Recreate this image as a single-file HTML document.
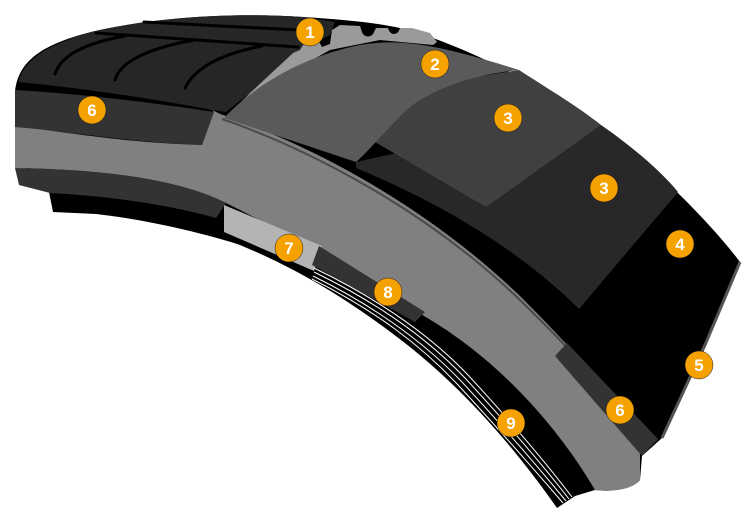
<!DOCTYPE html>
<html><head><style>
html,body{margin:0;padding:0;background:#fff;width:748px;height:519px;overflow:hidden}
svg{display:block}
text{font-family:"Liberation Sans",sans-serif;font-weight:bold;font-size:17px;fill:#fff;text-anchor:middle}
</style></head><body>
<svg width="748" height="519" viewBox="0 0 748 519">
<!-- black base silhouette -->
<path d="M15,127 L15,92 C18,62 40,45 91,32 C150,18 230,12 303,17 C350,20 400,24 433,38 C520,70 600,120 680,195 C705,220 725,242 740,262 L705,345 L662,438 L642,456 L640,480 C632,490 610,492 595,490 L575,496 L557,508 C520,455 470,395 410,347 C350,300 300,270 240,245 C210,235 150,220 96,214 L53,212 L48,187 L19,163 Z" fill="#000"/>
<!-- tread top -->
<path d="M19,80 C25,60 45,46 91,32 C150,18 230,12 303,17 L335,22 L330,35 L308,47 L293,53 L250,93 L226,112 L212,110 C150,98 80,88 19,82 Z" fill="#262626"/>
<g stroke="#000" stroke-width="3" fill="none" stroke-linecap="round">
<path d="M55,74 C60,58 80,44 125,36"/>
<path d="M115,80 C120,62 148,48 195,40"/>
<path d="M185,88 C195,68 220,54 262,46"/>
<path d="M96,33 L298,47"/>
<path d="M144,22 L300,30"/>
</g>
<!-- 6 strip left -->
<path d="M15,90 C80,94 150,102 214,112 L202,145 C140,143 70,132 15,127 Z" fill="#333"/>
<!-- light gray tread cut -->
<path d="M212,110 L226,117 L250,93 L293,53 L300,50 L305,42 L318,40 L322,47 L330,44 L332,30 L340,25 L360,26 L362,32 C364,38 372,38 374,32 L376,28 L388,28 C390,36 398,36 400,28 L412,28 L430,33 L437,42 L433,45 L380,40 L330,50 L280,78 L240,110 L226,124 Z" fill="#9a9a9a"/>
<!-- 3b -->
<path d="M356,162 C450,140 540,130 601,125 C630,145 660,170 678,192 L579,309 C540,270 470,215 356,168 Z" fill="#282828"/>
<!-- gray band -->
<path d="M15,127 C60,130 110,142 202,145 L214,112 C300,140 420,200 520,296 C580,356 620,404 640,432 L640,480 C632,490 610,492 595,490 C560,430 500,360 424,316 C380,285 320,250 226,203 C190,185 130,170 15,168 Z" fill="#808080"/>
<!-- thin dark line on top of gray -->
<path d="M222,119 C300,146 420,204 520,300 C580,358 620,406 642,436" stroke="#4a4a4a" stroke-width="2" fill="none"/>
<!-- dark strip below gray left -->
<path d="M15,168 C130,170 190,185 226,203 L216,218 C170,205 110,196 50,193 L19,185 Z" fill="#333"/>
<!-- 7 light -->
<path d="M224,205 L322,246 L314,271 L224,232 Z" fill="#b4b4b4"/>
<!-- 8 strip -->
<path d="M319,246 L425,312 L415,322 L312,265 Z" fill="#333"/>
<!-- stripes 9 -->
<g stroke="#fff" stroke-width="1" fill="none">
<path d="M314,268 C380,300 430,335 468,375 C505,415 540,455 572,497"/>
<path d="M314,272 C380,304 428,339 465,378 C502,418 537,458 569,499"/>
<path d="M313,276 C378,308 425,343 462,382 C499,422 534,462 566,501"/>
<path d="M312,279 C376,311 422,346 459,386 C496,426 531,466 563,503"/>
</g>
<!-- 6 strip right -->
<path d="M555,356 L567,343 L658,439 L642,456 Z" fill="#333"/>
<!-- layer 3a -->
<path d="M519,70 C550,90 580,108 601,125 L486,207 L375,142 C390,110 420,85 457,80 Z" fill="#404040"/>
<!-- layer 2 -->
<path d="M224,118 C260,80 310,55 360,45 C400,38 440,45 519,70 C480,74 440,85 410,107 C390,125 370,150 356,162 Z" fill="#5a5a5a"/>
<!-- right edge 5 -->
<path d="M740,262 L705,345 L662,438" stroke="#555" stroke-width="3" fill="none"/>
<!-- badges -->
<g fill="#f5a100" stroke="#1a1a1a" stroke-width="0.5">
<circle cx="310" cy="32" r="14"/><circle cx="435" cy="64" r="14"/>
<circle cx="508" cy="118" r="14"/><circle cx="604" cy="188" r="14"/>
<circle cx="680" cy="244" r="14"/><circle cx="699" cy="365" r="14"/>
<circle cx="92" cy="110" r="14"/><circle cx="620" cy="410" r="14"/>
<circle cx="289" cy="248" r="14"/><circle cx="388" cy="292" r="14"/>
<circle cx="511" cy="423" r="14"/>
</g>
<text x="310" y="38">1</text><text x="435" y="70">2</text>
<text x="508" y="124">3</text><text x="604" y="194">3</text>
<text x="680" y="250">4</text><text x="699" y="371">5</text>
<text x="92" y="116">6</text><text x="620" y="416">6</text>
<text x="289" y="254">7</text><text x="388" y="298">8</text>
<text x="511" y="429">9</text>
</svg>
</body></html>
